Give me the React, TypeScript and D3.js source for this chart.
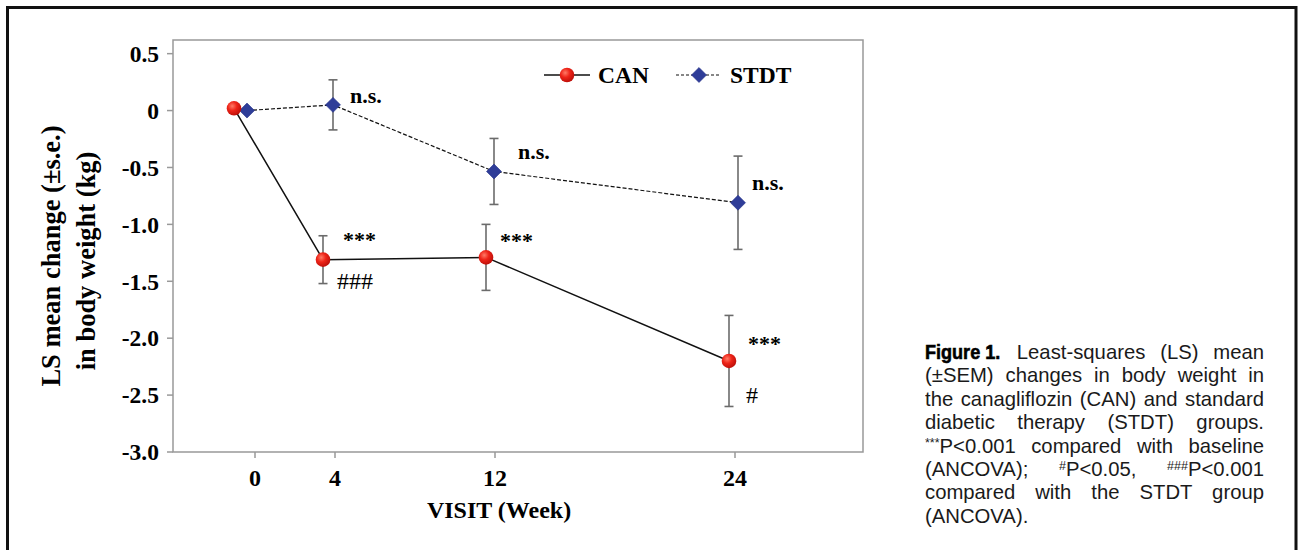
import React from 'react';
import * as d3 from 'd3';

// data
const weeks = [0, 4, 12, 24];
const weekTicks = [0, 4, 12, 24];
const yTicks = [0.5, 0, -0.5, -1.0, -1.5, -2.0, -2.5, -3.0];
const yTickLabels = ['0.5', '0', '-0.5', '-1.0', '-1.5', '-2.0', '-2.5', '-3.0'];

const canMean = [0.02, -1.31, -1.29, -2.2];
const canSE = [0, 0.21, 0.29, 0.4];
const canDodge = [-1.05, -0.6, -0.45, -0.3]; // weeks, horizontal dodge
const canUpper = ['', '***', '***', '***'];
const canLower = ['', '###', '', '#'];

const stdtMean = [0.0, 0.05, -0.535, -0.81];
const stdtSE = [0, 0.22, 0.29, 0.41];
const stdtDodge = [-0.4, -0.1, -0.05, 0.15];
const stdtNote = ['', 'n.s.', 'n.s.', 'n.s.'];

const captionLines = [
  'Least-squares (LS) mean',
  '(±SEM) changes in body weight in',
  'the canagliflozin (CAN) and standard',
  'diabetic therapy (STDT) groups.',
  '',
  '',
  'compared with the STDT group',
  '(ANCOVA).',
];

const W = 1298;
const H = 550;
const frame = { left: 173, right: 863, top: 40, bottom: 452 };

const serif = '"Liberation Serif", "Times New Roman", serif';
const sans = '"Liberation Sans", Arial, Helvetica, sans-serif';

const App = () => {
  const x = d3.scaleLinear().domain([-4.1, 30.4]).range([frame.left, frame.right]);
  const y = d3.scaleLinear().domain([-3.0, 0.62]).range([frame.bottom, frame.top]);

  const canPts = weeks.map((w, i) => ({ x: x(w + canDodge[i]), y: y(canMean[i]), se: canSE[i], i }));
  const stdtPts = weeks.map((w, i) => ({ x: x(w + stdtDodge[i]), y: y(stdtMean[i]), se: stdtSE[i], i }));
  const line = d3.line<{ x: number; y: number }>().x(d => d.x).y(d => d.y);
  const diamond = d3.symbol().type(d3.symbolSquare).size(112)();

  const errBar = (p: any, mean: number[], key: string) =>
    p.se > 0 ? (
      <g key={key} stroke="#6b6b6b" strokeWidth={1.6}>
        <line x1={p.x} x2={p.x} y1={y(mean[p.i] + p.se)} y2={y(mean[p.i] - p.se)} />
        <line x1={p.x - 4.5} x2={p.x + 4.5} y1={y(mean[p.i] + p.se)} y2={y(mean[p.i] + p.se)} />
        <line x1={p.x - 4.5} x2={p.x + 4.5} y1={y(mean[p.i] - p.se)} y2={y(mean[p.i] - p.se)} />
      </g>
    ) : null;

  const redBall = (cx: number, cy: number, key: string) => (
    <circle key={key} cx={cx} cy={cy} r={7.3} fill="url(#redBall)" />
  );
  const blueDiamond = (cx: number, cy: number, key: string) => (
    <path key={key} d={diamond!} transform={`translate(${cx},${cy}) rotate(45)`} fill="#2f3d98" stroke="#26338a" strokeWidth={0.6} />
  );

  // superscripts must not stretch the line box
  const sup = { fontSize: 12.5, position: 'relative', top: -6, lineHeight: 0, verticalAlign: 'baseline' } as const;
  const justified = { textAlign: 'justify', textAlignLast: 'justify', whiteSpace: 'nowrap', height: 23.4 } as const;

  return (
    <svg width={W} height={H} style={{ position: 'absolute', left: 0, top: 0, background: '#fff' }}>
      <defs>
        <radialGradient id="redBall" cx="0.38" cy="0.35" r="0.7">
          <stop offset="0" stopColor="#ff7a66" />
          <stop offset="0.45" stopColor="#ee2418" />
          <stop offset="1" stopColor="#b80d08" />
        </radialGradient>
      </defs>

      {/* outer border */}
      <path d={`M7.5,${H + 5} V7.5 H1296 V${H + 5}`} fill="none" stroke="#111" strokeWidth={3} />

      {/* plot frame */}
      <rect x={frame.left} y={frame.top} width={frame.right - frame.left} height={frame.bottom - frame.top}
        fill="none" stroke="#999" strokeWidth={1.5} />

      {/* y axis */}
      {yTicks.map((t, i) => (
        <g key={'yt' + i}>
          <line x1={frame.left - 6} x2={frame.left} y1={y(t)} y2={y(t)} stroke="#999" strokeWidth={1.5} />
          <text x={frame.left - 14} y={y(t)} dy="0.35em" textAnchor="end" fontFamily={serif} fontWeight="bold" fontSize={23.5}>
            {yTickLabels[i]}
          </text>
        </g>
      ))}

      {/* x axis */}
      {weekTicks.map((t, i) => (
        <g key={'xt' + i}>
          <line x1={x(t)} x2={x(t)} y1={frame.bottom} y2={frame.bottom + 6} stroke="#999" strokeWidth={1.5} />
          <text x={x(t)} y={486} textAnchor="middle" fontFamily={serif} fontWeight="bold" fontSize={24}>{t}</text>
        </g>
      ))}
      <text x={499} y={518} textAnchor="middle" fontFamily={serif} fontWeight="bold" fontSize={24}>VISIT (Week)</text>

      <g fontFamily={serif} fontWeight="bold" fontSize={26.5} textAnchor="middle">
        <text transform="translate(60,256) rotate(-90)">LS mean change (±s.e.)</text>
        <text transform="translate(95,261) rotate(-90)">in body weight (kg)</text>
      </g>

      {/* lines */}
      <path d={line(stdtPts)!} fill="none" stroke="#111" strokeWidth={1.2} strokeDasharray="4,2" />
      <path d={line(canPts)!} fill="none" stroke="#111" strokeWidth={1.5} />

      {/* error bars */}
      {stdtPts.map((p, i) => errBar(p, stdtMean, 'se' + i))}
      {canPts.map((p, i) => errBar(p, canMean, 'ce' + i))}

      {/* markers */}
      {stdtPts.map((p, i) => blueDiamond(p.x, p.y, 'sd' + i))}
      {canPts.map((p, i) => redBall(p.x, p.y, 'cb' + i))}

      {/* annotations */}
      <g fontFamily={serif} fontWeight="bold" fontSize={22}>
        {stdtPts.map((p, i) => stdtNote[i] ? (
          <text key={'sn' + i} x={p.x + [0, 17, 24, 14][i]} y={p.y + [0, -2, -12, -13][i]}>{stdtNote[i]}</text>
        ) : null)}
        {canPts.map((p, i) => canUpper[i] ? (
          <text key={'cu' + i} x={p.x + [0, 20, 14, 19][i]} y={p.y + [0, -13, -9, -10][i]}>{canUpper[i]}</text>
        ) : null)}
      </g>
      <g fontFamily={serif} fontSize={24}>
        {canPts.map((p, i) => canLower[i] ? (
          <text key={'cl' + i} x={p.x + [0, 14, 0, 17][i]} y={p.y + [0, 29, 0, 42][i]}>{canLower[i]}</text>
        ) : null)}
      </g>

      {/* legend */}
      <line x1={544} x2={590} y1={75} y2={75} stroke="#111" strokeWidth={1.5} />
      {redBall(567, 75, 'lg1')}
      <text x={598} y={83} fontFamily={serif} fontWeight="bold" fontSize={23.5}>CAN</text>
      <line x1={676} x2={721} y1={75} y2={75} stroke="#111" strokeWidth={1.2} strokeDasharray="3,2" />
      {blueDiamond(699, 75, 'lg2')}
      <text x={730} y={83} fontFamily={serif} fontWeight="bold" fontSize={23.5}>STDT</text>

      {/* caption */}
      <foreignObject x={925} y={341} width={339} height={205}>
        <div style={{ fontFamily: sans, fontSize: 20.3, lineHeight: '23.4px', color: '#1a1a1a' }}>
          <div style={justified}>
            <span style={{ display: 'inline-block', width: 77, lineHeight: 0 }}>
              <span style={{ display: 'inline-block', fontWeight: 'bold', fontSize: 21, color: '#000', transform: 'scaleX(0.86)', transformOrigin: 'left', WebkitTextStroke: '0.6px #000' }}>Figure 1.</span>
            </span>
            {' '}{captionLines[0]}
          </div>
          {captionLines.slice(1, 4).map((l, i) => (
            <div key={'c' + i} style={justified}>{l}</div>
          ))}
          <div style={justified}>
            <span style={sup}>***</span>P&lt;0.001 compared with baseline
          </div>
          <div style={justified}>
            (ANCOVA); <span style={sup}>#</span>P&lt;0.05, <span style={sup}>###</span>P&lt;0.001
          </div>
          {captionLines.slice(6).map((l, i) => (
            <div key={'d' + i} style={{ ...justified, textAlignLast: i === 1 ? 'left' : 'justify' }}>{l}</div>
          ))}
        </div>
      </foreignObject>
    </svg>
  );
};

export default App;
